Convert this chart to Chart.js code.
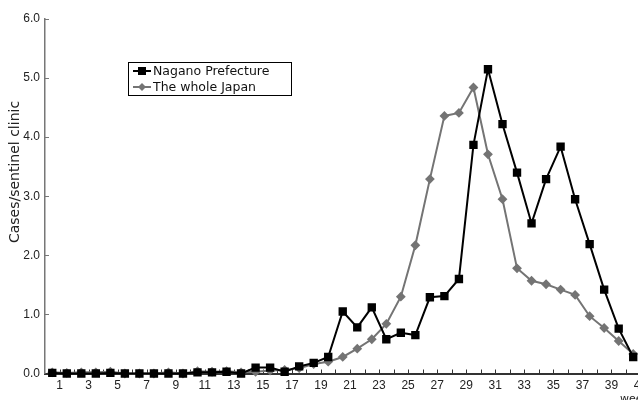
<!DOCTYPE html>
<html>
<head>
<meta charset="utf-8">
<script src="https://cdn.jsdelivr.net/npm/chart.js@4.4.1/dist/chart.umd.min.js"></script>
<style>
  html, body { margin: 0; padding: 0; background: #fff; overflow: hidden; width: 638px; height: 400px; }
  canvas { position: absolute; left: 0; top: 0; }
</style>
</head>
<body>
<canvas id="grafico" width="665" height="410"></canvas>
<script>
// semanas (los puntos caen a media semana, antes de cada etiqueta)
var semanas = [1, 2, 3, 4, 5, 6, 7, 8, 9, 10, 11, 12, 13, 14, 15, 16, 17, 18, 19, 20,
    21, 22, 23, 24, 25, 26, 27, 28, 29, 30, 31, 32, 33, 34, 35, 36, 37, 38, 39, 40, 41];
var nagano = [0.01, 0.0, 0.0, 0.0, 0.01, 0.0, 0.0, 0.0, 0.0, 0.0,
    0.02, 0.02, 0.03, 0.0, 0.10, 0.10, 0.03, 0.12, 0.18, 0.28,
    1.05, 0.78, 1.12, 0.58, 0.69, 0.65, 1.29, 1.31, 1.60, 3.87,
    5.15, 4.22, 3.40, 2.54, 3.29, 3.84, 2.95, 2.19, 1.42, 0.76, 0.28];
var japon = [0.02, 0.01, 0.02, 0.02, 0.03, 0.0, 0.0, 0.0, 0.02, 0.0,
    0.04, 0.03, 0.04, 0.02, 0.03, 0.05, 0.06, 0.09, 0.16, 0.20,
    0.28, 0.42, 0.58, 0.84, 1.30, 2.17, 3.29, 4.36, 4.41, 4.84,
    3.71, 2.95, 1.78, 1.57, 1.51, 1.42, 1.33, 0.97, 0.77, 0.55, 0.33];
var etiquetasY = ['0.0', '1.0', '2.0', '3.0', '4.0', '5.0', '6.0'];
var nombres = ['Nagano Prefecture', 'The whole Japan'];

function puntos(valores) {
    var out = [];
    for (var i = 0; i < valores.length; i++) {
        out.push({ x: semanas[i] - 0.5, y: valores[i] });
    }
    return out;
}

// marcas de los ejes hacia adentro, titulo Y, leyenda
var extras = {
    id: 'extras',
    beforeDatasetsDraw: function (chart) {
        var ctx = chart.ctx;
        var x = chart.scales.x, y = chart.scales.y;
        var area = chart.chartArea;
        ctx.save();
        ctx.strokeStyle = '#333';
        ctx.lineWidth = 1;
        for (var w = 1; w <= 42; w++) {
            var px = Math.round(x.getPixelForValue(w)) + 0.5;
            ctx.beginPath();
            ctx.moveTo(px, area.bottom);
            ctx.lineTo(px, area.bottom - 4);
            ctx.stroke();
        }
        ctx.strokeStyle = '#777';
        for (var v = 1; v <= 6; v++) {
            var py = Math.round(y.getPixelForValue(v)) + 0.5;
            ctx.beginPath();
            ctx.moveTo(area.left, py);
            ctx.lineTo(area.left + 4, py);
            ctx.stroke();
        }
        ctx.restore();
    },
    afterDraw: function (chart) {
        var ctx = chart.ctx;
        ctx.save();
        // titulo eje Y
        ctx.fillStyle = '#222';
        ctx.font = '14px "DejaVu Sans", sans-serif';
        ctx.translate(15, 172);
        ctx.rotate(-Math.PI / 2);
        ctx.textAlign = 'center';
        ctx.textBaseline = 'middle';
        ctx.fillText('Cases/sentinel clinic', 0, 0);
        ctx.restore();

        ctx.save();
        ctx.fillStyle = '#222';
        ctx.font = '11px "DejaVu Sans", sans-serif';
        ctx.textBaseline = 'top';
        ctx.fillText('week', 620, 394);

        // leyenda
        ctx.strokeStyle = '#000';
        ctx.lineWidth = 1;
        ctx.strokeRect(128.5, 62.5, 163, 33);
        var filas = [71, 87];
        var sets = chart.data.datasets;
        for (var i = 0; i < 2; i++) {
            var yy = filas[i];
            ctx.strokeStyle = sets[i].borderColor;
            ctx.lineWidth = 2;
            ctx.beginPath();
            ctx.moveTo(133, yy);
            ctx.lineTo(151, yy);
            ctx.stroke();
            ctx.fillStyle = sets[i].pointBackgroundColor;
            if (i === 0) {
                ctx.fillRect(138, yy - 4, 8, 8);
            } else {
                ctx.beginPath();
                ctx.moveTo(142, yy - 4);
                ctx.lineTo(146, yy);
                ctx.lineTo(142, yy + 4);
                ctx.lineTo(138, yy);
                ctx.closePath();
                ctx.fill();
            }
            ctx.fillStyle = '#111';
            ctx.font = '12.5px "DejaVu Sans", sans-serif';
            ctx.textBaseline = 'middle';
            ctx.fillText(nombres[i], 153, yy + 1);
        }
        ctx.restore();
    }
};

const ctx = document.getElementById('grafico');
var myChart = new Chart(ctx, {
    type: 'line',
    data: {
        datasets: [{
            label: nombres[0],
            data: puntos(nagano),
            borderColor: '#000',
            backgroundColor: '#000',
            pointBackgroundColor: '#000',
            pointBorderColor: '#000',
            pointStyle: 'rect',
            pointRadius: 4.5,
            borderWidth: 2,
            tension: 0,
            clip: false
        }, {
            label: nombres[1],
            data: puntos(japon),
            borderColor: '#747474',
            backgroundColor: '#747474',
            pointBackgroundColor: '#747474',
            pointBorderColor: '#747474',
            pointStyle: 'rectRot',
            pointRadius: 3.5,
            borderWidth: 2,
            tension: 0,
            clip: false
        }]
    },
    options: {
        responsive: false,
        animation: false,
        devicePixelRatio: 1,
        layout: { padding: { top: 19, right: 10, left: 0, bottom: 0 } },
        plugins: {
            legend: { display: false },
            tooltip: { enabled: false }
        },
        scales: {
            x: {
                type: 'linear',
                min: 0,
                max: 42,
                grid: { display: false, drawTicks: false },
                border: { display: true, color: '#333', width: 2 },
                ticks: {
                    stepSize: 1,
                    autoSkip: false,
                    maxRotation: 0,
                    padding: 5,
                    color: '#222',
                    font: { family: '"Liberation Sans", Arial, sans-serif', size: 12 },
                    callback: function (v) { return (v % 2 === 1) ? String(v) : ''; }
                },
                afterFit: function (scale) { scale.height = 36.5; }
            },
            y: {
                min: 0,
                max: 6,
                grid: { display: false, drawTicks: false },
                border: { display: true, color: '#777', width: 1.5 },
                ticks: {
                    stepSize: 1,
                    padding: 5,
                    color: '#222',
                    font: { family: '"Liberation Sans", Arial, sans-serif', size: 12 },
                    callback: function (v) { return etiquetasY[v]; }
                },
                afterFit: function (scale) { scale.width = 45; }
            }
        }
    },
    plugins: [extras]
});
</script>
</body>
</html>
